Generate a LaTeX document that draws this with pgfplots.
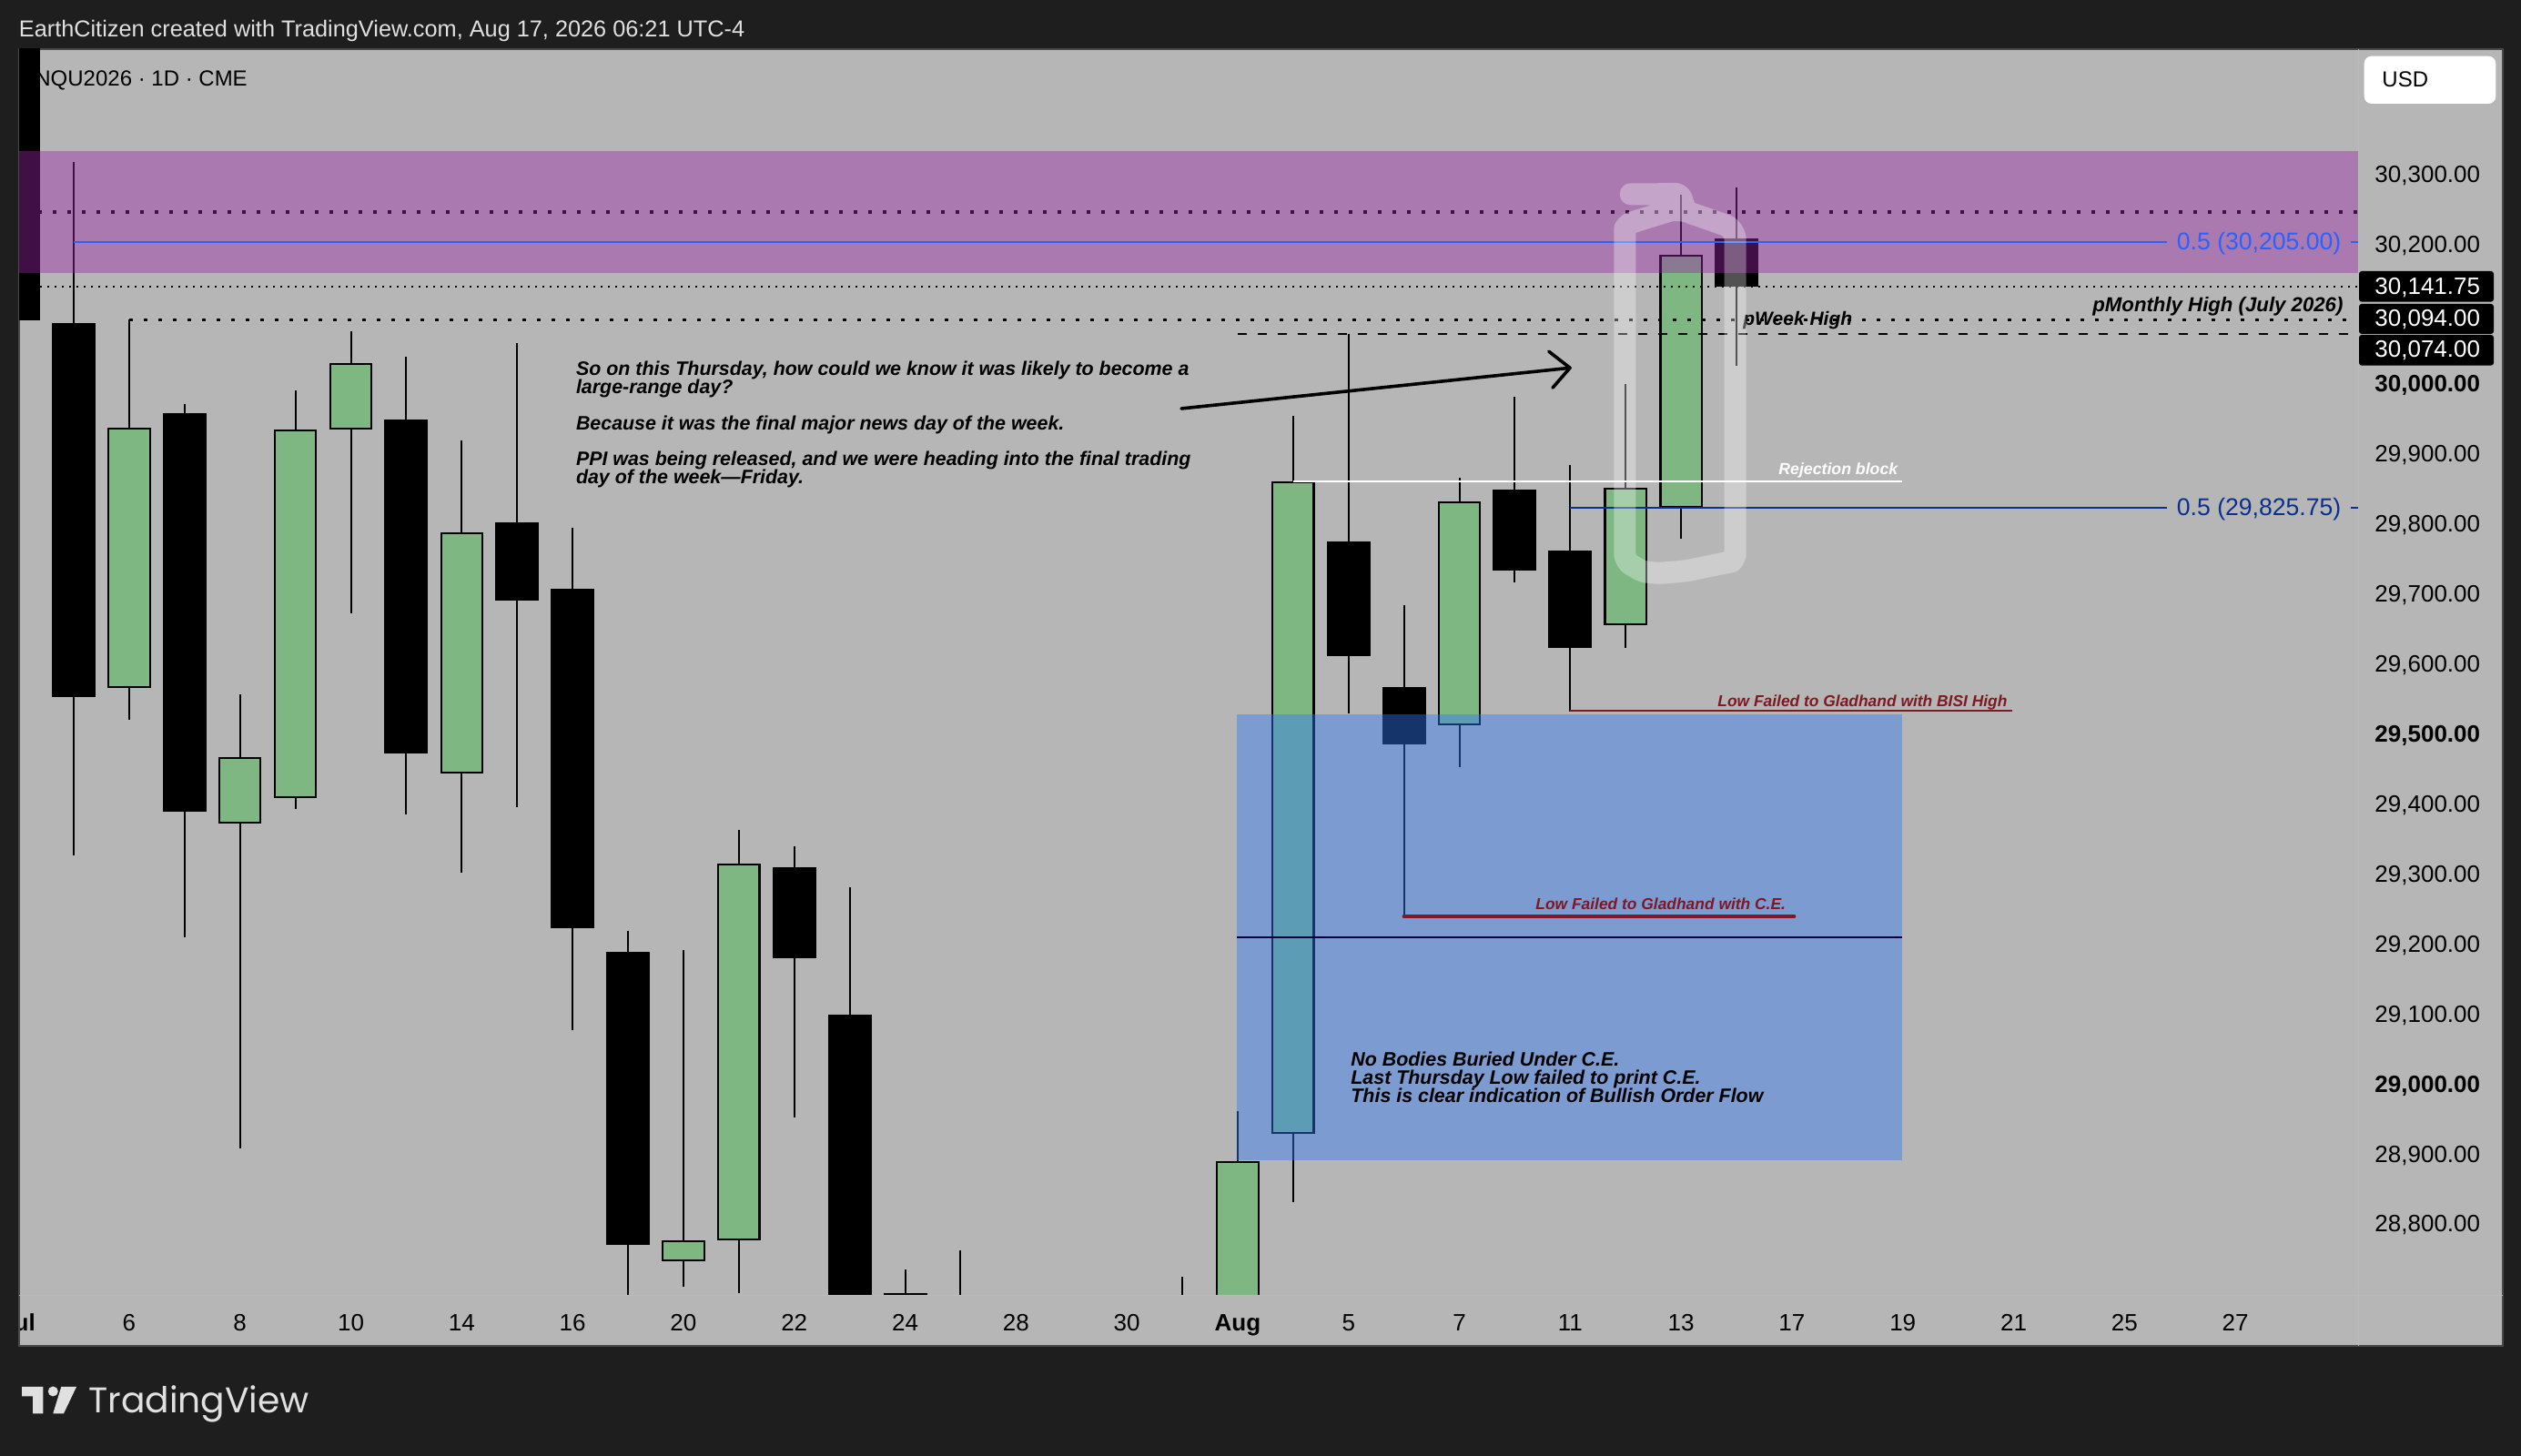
\documentclass[border=0pt]{standalone}
\usepackage{pgfplots}
\pgfplotsset{compat=1.18}
\usepackage{pgfplotstable}
\usepackage{fontspec}
\setmainfont{Liberation Sans}
\newfontfamily\logofont{Poppins}
\definecolor{frame}{HTML}{1E1E1E}
\definecolor{panel}{HTML}{B6B6B6}
\definecolor{bull}{HTML}{7EB782}
\definecolor{purp}{HTML}{9A26A8}
\definecolor{fvg}{HTML}{3179F6}
\definecolor{blueA}{HTML}{2962FF}
\definecolor{blueB}{HTML}{0B2F8F}
\definecolor{redA}{HTML}{7F1822}
\pgfplotstableread{
i high top bot low
-1 30750 30700 30093 30093
0 30319.4 30088.9 29555.5 29328.4
2 29973.2 29960.3 29391.3 29211.7
6 30041.6 29951.2 29474.3 29387.7
8 30060.7 29804.5 29693.2 29397.7
9 29797.2 29709.6 29224.4 29079.5
10 29220.7 29190.7 28772 28620
13 29342 29312 29181.5 28954.4
14 29283.7 29101.3 28500 28450
15 28737.5 28703 28600 28550
16 28764.8 28650 28600 28550
20 28726.5 28660 28600 28550
23 30074 29777.3 29613.8 29531.6
24 29686.6 29569.4 29488 29241.7
26 29984.1 29851.1 29735.7 29719.3
27 29886.8 29764.2 29625.2 29534.5
30 30282.9 30210.2 30141.75 30028.5
}\bear
\pgfplotstableread{
i high top bot low
1 30094 29940.3 29567.4 29522.6
3 29559 29468.8 29374 28909.8
4 29993.2 29936.7 29411.3 29395
5 30078 30031.6 29936.7 29675
7 29921.2 29789.8 29445.2 29303.8
11 29193.5 28779.4 28749.3 28712
12 29364.8 29316.6 28779.4 28703
21 28963.6 28891.6 28600 28550
22 29956.8 29862.7 28931 28833
25 29868 29834.2 29514.4 29454.3
28 30002.2 29853.4 29657.4 29625.2
29 30272 30187.2 29826 29781.7
}\bull
\begin{document}
\begin{tikzpicture}
\useasboundingbox (0,0) rectangle (1385pt,800pt);
\begin{scope}[yshift=800pt,x=0.5pt,y=-0.5pt]
\fill[frame] (0,0) rectangle (2770,1600);
\fill[panel,draw=black!60!panel,line width=1pt] (20.5,54) rectangle (2750,1479);
\end{scope}
\begin{axis}[
  at={(10.5pt,88pt)}, anchor=south west, scale only axis,
  width=1285pt, height=685pt,
  xmin=-0.9852, xmax=41.2151, ymin=28699.6, ymax=30480.6,
  axis line style={draw=none}, major tick length=0pt, scaled y ticks=false,
  ytick={30300,30200,30000,29900,29800,29700,29600,29500,29400,29300,29200,29100,29000,28900,28800},
  yticklabels={{30,300.00},{30,200.00},{\bfseries 30,000.00},{29,900.00},{29,800.00},{29,700.00},{29,600.00},{\bfseries 29,500.00},{29,400.00},{29,300.00},{29,200.00},{29,100.00},{\bfseries 29,000.00},{28,900.00},{28,800.00}},
  yticklabel pos=right,
  yticklabel style={font=\fontsize{13}{13}\selectfont,anchor=base west,inner sep=0pt,xshift=9pt,yshift=-3.6pt,text=black},
  xtick={1,3,5,7,9,11,13,15,17,19,21,23,25,27,29,31,33,35,37,39},
  xticklabels={6,8,10,14,16,20,22,24,28,30,{\bfseries Aug},5,7,11,13,17,19,21,25,27},
  xticklabel style={font=\fontsize{13}{13}\selectfont,anchor=base,inner sep=0pt,yshift=-19.5pt,text=black},
]
% wicks
\addplot[draw=none,mark=none,forget plot,error bars/.cd,y dir=plus,y explicit,error mark=none,error bar style={draw=black,line width=1pt}]
  table[x=i,y=low,y error expr=\thisrow{high}-\thisrow{low}] {\bear};
\addplot[draw=none,mark=none,forget plot,error bars/.cd,y dir=plus,y explicit,error mark=none,error bar style={draw=black,line width=1pt}]
  table[x=i,y=low,y error expr=\thisrow{high}-\thisrow{low}] {\bull};
% bodies
\addplot[draw=none,mark=none,forget plot,error bars/.cd,y dir=plus,y explicit,error mark=none,error bar style={draw=black,line width=24pt}]
  table[x=i,y=bot,y error expr=\thisrow{top}-\thisrow{bot}] {\bear};
\addplot[draw=none,mark=none,forget plot,error bars/.cd,y dir=plus,y explicit,error mark=none,error bar style={draw=black,line width=23.75pt}]
  table[x=i,y=bot,y error expr=\thisrow{top}-\thisrow{bot}] {\bull};
\addplot[draw=none,mark=none,forget plot,error bars/.cd,y dir=plus,y explicit,error mark=none,error bar style={draw=bull,line width=21.6pt}]
  table[x=i,y expr=\thisrow{bot}+2.6,y error expr=\thisrow{top}-\thisrow{bot}-5.2] {\bull};
% level lines under the zones
\addplot[black,line width=1.6pt,dash pattern=on 2pt off 6pt] coordinates {(-0.91,30247.9)(41.2151,30247.9)};
% zones
\fill[purp,fill opacity=0.42] (axis cs:-0.9852,30335) rectangle (axis cs:41.2151,30160.8);
\fill[fvg,fill opacity=0.43] (axis cs:20.99,29530) rectangle (axis cs:32.98,28893.6);
\addplot[black!75!blue,line width=1pt] coordinates {(20.99,29211.8)(32.98,29211.8)};
% level lines
\addplot[black,line width=1pt,dash pattern=on 1pt off 3pt] coordinates {(-0.6,30141.75)(41.2151,30141.75)};
\addplot[black,line width=1.6pt,dash pattern=on 2pt off 6pt] coordinates {(1,30094)(41.03,30094)};
\addplot[black,line width=1pt,dash pattern=on 5pt off 6pt] coordinates {(21,30074)(41.03,30074)};
\addplot[blueA,line width=1pt] coordinates {(0,30205)(37.77,30205)};
\addplot[blueA,line width=1pt] coordinates {(41.08,30205)(41.2151,30205)};
\addplot[blueB,line width=1pt] coordinates {(27,29825.75)(37.77,29825.75)};
\addplot[blueB,line width=1pt] coordinates {(41.08,29825.75)(41.2151,29825.75)};
\addplot[white,line width=1pt] coordinates {(22,29863)(32.98,29863)};
\addplot[redA,line width=1pt] coordinates {(27,29535)(34.97,29535)};
\addplot[redA,line width=2pt,line cap=round] coordinates {(24,29241.7)(31.04,29241.7)};
\end{axis}
\begin{scope}[yshift=800pt,x=0.5pt,y=-0.5pt]
% month label cut by the left of the frame
\node[anchor=base,inner sep=0pt,font=\fontsize{13}{13}\bfseries\selectfont] at (20,1463) {Jul};
\fill[frame] (0,1425) rectangle (20,1480);
\draw[black!60!panel,line width=1pt] (20.5,1424) -- (20.5,1479);
\draw[panel!95!white,line width=.5pt] (2591,54) -- (2591,1479);
\draw[panel!95!white,line width=.5pt] (21,1424) -- (2750,1424);
% texts
\tikzset{note/.style={anchor=base west,inner sep=0pt,font=\fontsize{10.7}{10.7}\bfseries\itshape\selectfont}}
\node[note] at (632.6,412.3) {So on this Thursday, how could we know it was likely to become a};
\node[note] at (632.6,432.3) {large-range day?};
\node[note] at (632.6,472.3) {Because it was the final major news day of the week.};
\node[note] at (632.6,511.7) {PPI was being released, and we were heading into the final trading};
\node[note] at (632.6,531.7) {day of the week—Friday.};
\node[note] at (1484,1171.5) {No Bodies Buried Under C.E.};
\node[note] at (1484,1191.5) {Last Thursday Low failed to print C.E.};
\node[note] at (1484,1211.5) {This is clear indication of Bullish Order Flow};
\node[note,font=\fontsize{8.7}{8.7}\bfseries\itshape\selectfont,text=redA] at (1887,776.4) {Low Failed to Gladhand with BISI High};
\node[note,font=\fontsize{8.7}{8.7}\bfseries\itshape\selectfont,text=redA] at (1687,1000) {Low Failed to Gladhand with C.E.};
\node[note,font=\fontsize{8.85}{8.85}\bfseries\itshape\selectfont,text=white] at (1954,521.7) {Rejection block};
\node[note,font=\fontsize{11.1}{11.1}\bfseries\itshape\selectfont] at (2299,343) {pMonthly High (July 2026)};
\node[note,font=\fontsize{10.5}{10.5}\bfseries\itshape\selectfont] at (1915,357.5) {pWeek High};
\node[anchor=base west,inner sep=0pt,font=\fontsize{13.3}{13.3}\selectfont,text=blueA] at (2391.5,275) {0.5 (30,205.00)};
\node[anchor=base west,inner sep=0pt,font=\fontsize{13.3}{13.3}\selectfont,text=blueB] at (2391.5,566.7) {0.5 (29,825.75)};
\node[anchor=base west,inner sep=0pt,font=\fontsize{12}{12}\selectfont] at (38,95) {NQU2026 · 1D · CME};
% arrow
\draw[black,line width=1.8pt,line cap=round,line join=round] (1298,449) -- (1725,404.3);
\draw[black,line width=1.8pt,line cap=round,line join=round] (1701.8,386.2) -- (1725,404.3) -- (1706,426.2);
% highlighter
\draw[white,draw opacity=0.32,line width=12pt,line cap=round,line join=round,rounded corners=3pt]
 (1791.7,213.3) -- (1823.3,213.3) -- (1846,212.7) -- (1852.3,232.3) -- (1891.7,246) to[out=-20,in=90] (1906.7,268.3) -- (1906.7,603.3)
 to[out=-90,in=10] (1896.7,618.3) -- (1853.3,627.3) -- (1823.3,630) to[out=175,in=-30] (1796.7,623.3)
 to[out=150,in=-90] (1785.3,603.3) -- (1785.3,257.3) to[out=90,in=-160] (1796.7,243.3) -- (1840,230) -- (1852.3,232.3);
% price tags
\foreach \a/\b/\base/\t in {298/331.7/323.2/{30,141.75},334/367/358.8/{30,094.00},368/401.7/392.2/{30,074.00}}{
  \fill[black,rounded corners=1.5pt] (2592,\a) rectangle (2740,\b);
  \node[anchor=base west,inner sep=0pt,font=\fontsize{13}{13}\selectfont,text=white] at (2609,\base) {\t};
}
% USD
\fill[white,rounded corners=4pt] (2597.7,61.7) rectangle (2742.3,114);
\node[anchor=base west,inner sep=0pt,font=\fontsize{12}{12}\selectfont] at (2617,95.5) {USD};
% header and logo
\node[anchor=base west,inner sep=0pt,font=\fontsize{12.65}{12.65}\selectfont,text=black!12] at (20.5,41) {EarthCitizen created with TradingView.com, Aug 17, 2026 06:21 UTC-4};
\fill[black!12] (24,1524) -- (47.3,1524) -- (47.3,1553.3) -- (36,1553.3) -- (36,1534.3) -- (24,1534.3) -- cycle;
\fill[black!12] (58.3,1529) circle[radius=5.5];
\fill[black!12] (67.3,1524) -- (84,1524) -- (70,1553.3) -- (58.3,1553.3) -- cycle;
\node[anchor=base west,inner sep=0pt,font=\fontsize{19.6}{19.6}\logofont\selectfont,text=black!12] at (97,1553) {TradingView};
\end{scope}
\end{tikzpicture}
\end{document}
